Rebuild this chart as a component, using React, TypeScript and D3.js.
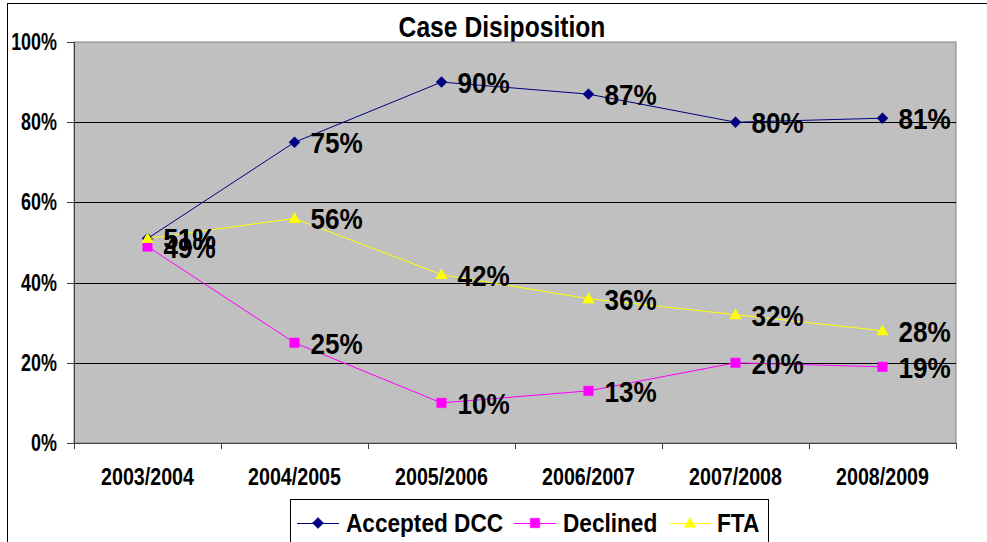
import React from 'react';
import * as d3 from 'd3';

const categories = ['2003/2004', '2004/2005', '2005/2006', '2006/2007', '2007/2008', '2008/2009'];
const acceptedDCC = [51, 75, 90, 87, 80, 81];
const declined = [49, 25, 10, 13, 20, 19];
const fta = [51, 56, 42, 36, 32, 28];
const yTicks = [0, 20, 40, 60, 80, 100];

const series = [
  { name: 'Accepted DCC', values: acceptedDCC, color: '#000080', symbol: 'diamond' },
  { name: 'Declined', values: declined, color: '#FF00FF', symbol: 'square' },
  { name: 'FTA', values: fta, color: '#FFFF00', symbol: 'triangle' },
];

const FONT = '"Liberation Sans", Arial, sans-serif';

const markerPath = (kind: string) => {
  if (kind === 'diamond') return d3.symbol(d3.symbolSquare, 60)();
  if (kind === 'square') return d3.symbol(d3.symbolSquare, 90)();
  return d3.symbol(d3.symbolTriangle, 65)();
};

const Marker = ({ kind, x, y, color }: { kind: string; x: number; y: number; color: string }) => (
  <path
    d={markerPath(kind) || ''}
    transform={`translate(${x},${y})${kind === 'diamond' ? ' rotate(45)' : kind === 'triangle' ? ' translate(0,1)' : ''}`}
    fill={color}
    stroke={kind === 'triangle' ? 'none' : color}
    strokeWidth={kind === 'triangle' ? 0 : 0.5}
  />
);

const Label = ({ x, y, size, sx, anchor = 'start', children }: any) => (
  <text
    transform={`translate(${x},${y}) scale(${sx},1)`}
    fontFamily={FONT}
    fontWeight="bold"
    fontSize={size}
    textAnchor={anchor}
    fill="#000"
  >
    {children}
  </text>
);

export default function App() {
  const left = 74, right = 956, top = 42, bottom = 443;

  const x = d3.scaleBand().domain(categories).range([left, right]);
  const y = d3.scaleLinear().domain([0, 100]).range([bottom, top]);
  const cx = (c: string) => (x(c) || 0) + x.bandwidth() / 2;

  const line = d3.line<number>()
    .x((_, i) => cx(categories[i]))
    .y(d => y(d));

  const legendItems = [
    { lx: 297, tx: 346 },
    { lx: 514, tx: 563 },
    { lx: 669, tx: 717 },
  ];
  const legendY = 523;

  return (
    <svg width={987} height={542} style={{ position: 'absolute', left: 0, top: 0, background: '#fff' }}>
      <rect x={7.5} y={3.5} width={1000} height={600} fill="#fff" stroke="#000" strokeWidth={1} />

      <Label x={502} y={37} size={29} sx={0.85} anchor="middle">Case Disiposition</Label>

      <rect x={left} y={top} width={right - left} height={bottom - top} fill="#C0C0C0" stroke="#808080" strokeWidth={1} />

      {yTicks.filter(t => t > 0 && t < 100).map(t => (
        <line key={t} x1={left} x2={right} y1={Math.round(y(t)) + 0.5} y2={Math.round(y(t)) + 0.5} stroke="#000" strokeWidth={1} />
      ))}

      <line x1={left + 0.5} x2={left + 0.5} y1={top} y2={bottom} stroke="#404040" />
      <line x1={left} x2={right} y1={bottom + 0.5} y2={bottom + 0.5} stroke="#404040" />

      {yTicks.map(t => (
        <g key={t}>
          <line x1={67} x2={left} y1={Math.round(y(t)) + 0.5} y2={Math.round(y(t)) + 0.5} stroke="#404040" />
          <Label x={57} y={y(t) + 8} size={23} sx={0.78} anchor="end">{t}%</Label>
        </g>
      ))}

      {[...categories.map(c => x(c) || 0), right].map((v, i) => (
        <line key={i} x1={Math.round(v) + 0.5} x2={Math.round(v) + 0.5} y1={bottom} y2={bottom + 6} stroke="#404040" />
      ))}

      {categories.map(c => (
        <Label key={c} x={cx(c)} y={485} size={24} sx={0.82} anchor="middle">{c}</Label>
      ))}

      {series.map(s => (
        <g key={s.name}>
          <path d={line(s.values) || ''} fill="none" stroke={s.color} strokeWidth={1} />
          {s.values.map((v, i) => (
            <Marker key={i} kind={s.symbol} x={cx(categories[i])} y={y(v)} color={s.color} />
          ))}
        </g>
      ))}

      {series.map(s => (
        <g key={s.name + '-labels'}>
          {s.values.map((v, i) => (
            <Label key={i} x={cx(categories[i]) + 16} y={y(v) + 11} size={30} sx={0.87}>{v}%</Label>
          ))}
        </g>
      ))}

      <rect x={290.5} y={499.5} width={478} height={80} fill="#fff" stroke="#000" strokeWidth={1} />
      {series.map((s, i) => (
        <g key={s.name + '-legend'}>
          <line x1={legendItems[i].lx} x2={legendItems[i].lx + 42} y1={legendY + 0.5} y2={legendY + 0.5} stroke={s.color} strokeWidth={1} />
          <Marker kind={s.symbol} x={legendItems[i].lx + 21} y={legendY} color={s.color} />
          <Label x={legendItems[i].tx} y={legendY + 9} size={26} sx={0.87}>{s.name}</Label>
        </g>
      ))}
    </svg>
  );
}
